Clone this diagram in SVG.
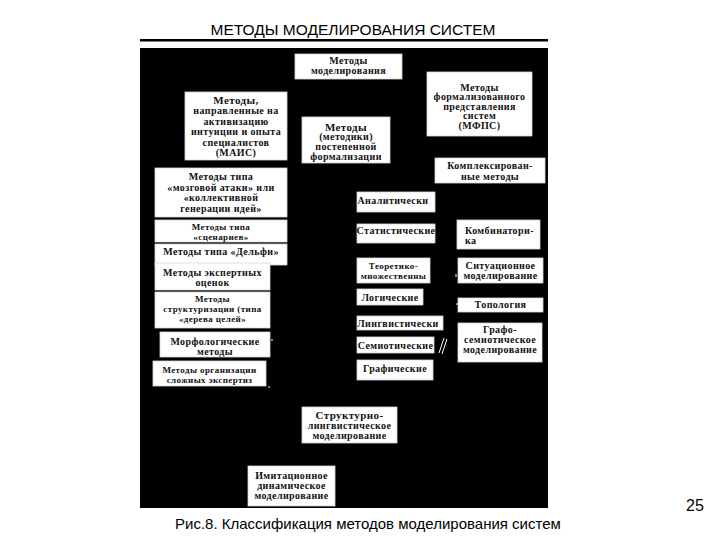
<svg xmlns="http://www.w3.org/2000/svg" width="720" height="540" viewBox="0 0 720 540">
<style>
.bx{fill:#ffffff;stroke:#d8d8d8;stroke-width:0.8}
.t{font-family:"Liberation Serif","DejaVu Serif",serif;font-weight:bold;font-size:10px;letter-spacing:0.4px;fill:#111;text-anchor:middle}
.s{font-size:9px}
.tl{text-anchor:start}
.hd{font-family:"Liberation Sans",Arial,sans-serif;fill:#000}
.mk{stroke:#ffffff;stroke-width:1;fill:none}
</style>
<rect width="720" height="540" fill="#ffffff"/>
<text class="hd" x="353" y="35" font-size="15.5" text-anchor="middle">МЕТОДЫ МОДЕЛИРОВАНИЯ СИСТЕМ</text>
<rect x="140" y="39" width="408" height="2.5" fill="#000"/>
<rect x="140" y="48" width="408" height="460" fill="#000"/>

<g id="n-mm"><rect class="bx" x="295" y="54" width="107" height="25"/>
<text class="t" x="348.5" y="63.5"><tspan x="348.5">Методы</tspan><tspan x="348.5" dy="10">моделирования</tspan></text></g>

<g id="n-mais"><rect class="bx" x="185" y="92" width="102" height="68"/>
<text class="t" x="236" y="103.5"><tspan x="236" font-size="11">Методы,</tspan><tspan x="236" dy="10.5">направленные на</tspan><tspan x="236" dy="10.5">активизацию</tspan><tspan x="236" dy="10.5">интуиции и опыта</tspan><tspan x="236" dy="10.5">специалистов</tspan><tspan x="236" dy="10.5">(МАИС)</tspan></text></g>

<g id="n-post"><rect class="bx" x="302" y="117" width="88" height="46"/>
<text class="t" x="346" y="130.5"><tspan x="346" font-size="11">Методы</tspan><tspan x="346" dy="9.7">(методики)</tspan><tspan x="346" dy="9.7">постепенной</tspan><tspan x="346" dy="9.7">формализации</tspan></text></g>

<g id="n-mfps"><rect class="bx" x="427" y="72" width="105" height="64"/>
<text class="t" x="479.5" y="90.5"><tspan x="479.5">Методы</tspan><tspan x="479.5" dy="9.5">формализованного</tspan><tspan x="479.5" dy="9.5">представления</tspan><tspan x="479.5" dy="9.5">систем</tspan><tspan x="479.5" dy="9.5">(МФПС)</tspan></text></g>

<g id="n-kompl"><rect class="bx" x="435" y="158" width="110" height="25"/>
<text class="t" x="490" y="169"><tspan x="490">Комплексирован-</tspan><tspan x="490" dy="10.5">ные методы</tspan></text></g>

<g id="n-mozg"><rect class="bx" x="155" y="168" width="132" height="49"/>
<text class="t" x="221" y="180"><tspan x="221">Методы типа</tspan><tspan x="221" dy="10.5">«мозговой атаки» или</tspan><tspan x="221" dy="10.5">«коллективной</tspan><tspan x="221" dy="10.5">генерации идей»</tspan></text></g>

<g id="n-scen"><rect class="bx" x="155" y="220" width="132" height="22"/>
<text class="t s" x="221" y="229.5"><tspan x="221">Методы типа</tspan><tspan x="221" dy="10">«сценариев»</tspan></text></g>

<g id="n-delfi"><rect class="bx" x="155" y="244" width="132" height="21"/>
<text class="t" x="221" y="254.5">Методы типа «Дельфи»</text></g>

<g id="n-eksp"><rect class="bx" x="155" y="263" width="115" height="27"/>
<text class="t" x="212.5" y="276"><tspan x="212.5">Методы экспертных</tspan><tspan x="212.5" dy="10">оценок</tspan></text></g>

<g id="n-strukt"><rect class="bx" x="155" y="292" width="115" height="36"/>
<text class="t s" x="212.5" y="302"><tspan x="212.5">Методы</tspan><tspan x="212.5" dy="10">структуризации (типа</tspan><tspan x="212.5" dy="10">«дерева целей»</tspan></text></g>

<g id="n-morf"><rect class="bx" x="160" y="332" width="110" height="25"/>
<text class="t" x="215" y="344.5" font-size="11"><tspan x="215">Морфологические</tspan><tspan x="215" dy="10">методы</tspan></text></g>

<g id="n-org"><rect class="bx" x="153" y="361" width="113" height="25"/>
<text class="t s" x="209.5" y="373"><tspan x="209.5">Методы организации</tspan><tspan x="209.5" dy="10">сложных экспертиз</tspan></text></g>

<g id="n-anal"><rect class="bx" x="357" y="192" width="78" height="20"/>
<text class="t" x="393" y="203.5">Аналитически</text></g>

<g id="n-stat"><rect class="bx" x="357" y="224" width="78" height="19"/>
<text class="t" x="396" y="233.5">Статистические</text></g>

<g id="n-teor"><rect class="bx" x="357" y="258" width="73" height="25"/>
<text class="t s" x="393.5" y="268.5"><tspan x="393.5">Теоретико-</tspan><tspan x="393.5" dy="10">множественны</tspan></text></g>

<g id="n-log"><rect class="bx" x="357" y="289" width="66" height="16"/>
<text class="t" x="390" y="300.5">Логические</text></g>

<g id="n-ling"><rect class="bx" x="357" y="316" width="86" height="14"/>
<text class="t" x="398" y="326.5">Лингвистически</text></g>

<g id="n-semi"><rect class="bx" x="357" y="337" width="77" height="16"/>
<text class="t" x="395.5" y="348.5">Семиотические</text></g>

<g id="n-graf"><rect class="bx" x="357" y="360" width="76" height="20"/>
<text class="t" x="395" y="371.5">Графические</text></g>

<g id="n-komb"><rect class="bx" x="457" y="220" width="83" height="29"/>
<text class="t tl" x="465" y="233.5"><tspan x="465">Комбинатори-</tspan><tspan x="465" dy="10.5">ка</tspan></text></g>

<g id="n-sit"><rect class="bx" x="458" y="258" width="85" height="25"/>
<text class="t" x="500.5" y="268.5"><tspan x="500.5">Ситуационное</tspan><tspan x="500.5" dy="10">моделирование</tspan></text></g>

<g id="n-topo"><rect class="bx" x="458" y="298" width="85" height="14"/>
<text class="t" x="500.5" y="308">Топология</text></g>

<g id="n-grafsem"><rect class="bx" x="458" y="323" width="84" height="39"/>
<text class="t" x="500" y="333"><tspan x="500">Графо-</tspan><tspan x="500" dy="10">семиотическое</tspan><tspan x="500" dy="10">моделирование</tspan></text></g>

<g id="n-strling"><rect class="bx" x="302" y="407" width="95" height="36"/>
<text class="t" x="349.5" y="418.5"><tspan x="349.5" font-size="11">Структурно-</tspan><tspan x="349.5" dy="10">лингвистическое</tspan><tspan x="349.5" dy="10">моделирование</tspan></text></g>

<g id="n-imit"><rect class="bx" x="248" y="466" width="87" height="40"/>
<text class="t" x="291.5" y="478.5"><tspan x="291.5">Имитационное</tspan><tspan x="291.5" dy="10">динамическое</tspan><tspan x="291.5" dy="10">моделирование</tspan></text></g>

<g id="connectors">
<path class="mk" d="M439 353 L444 338 M442 354 L447 339"/>
<path class="mk" d="M456 277 l0 -3 M457 305 l0 -2 M262 326 l0 2 M272 339 l0 2 M269 386 l0 2 M365 207 l1 0"/>
</g>

<text class="hd" x="175" y="529" font-size="15">Рис.8. Классификация методов моделирования систем</text>
<text class="hd" x="695" y="511" font-size="16" text-anchor="middle">25</text>
</svg>
